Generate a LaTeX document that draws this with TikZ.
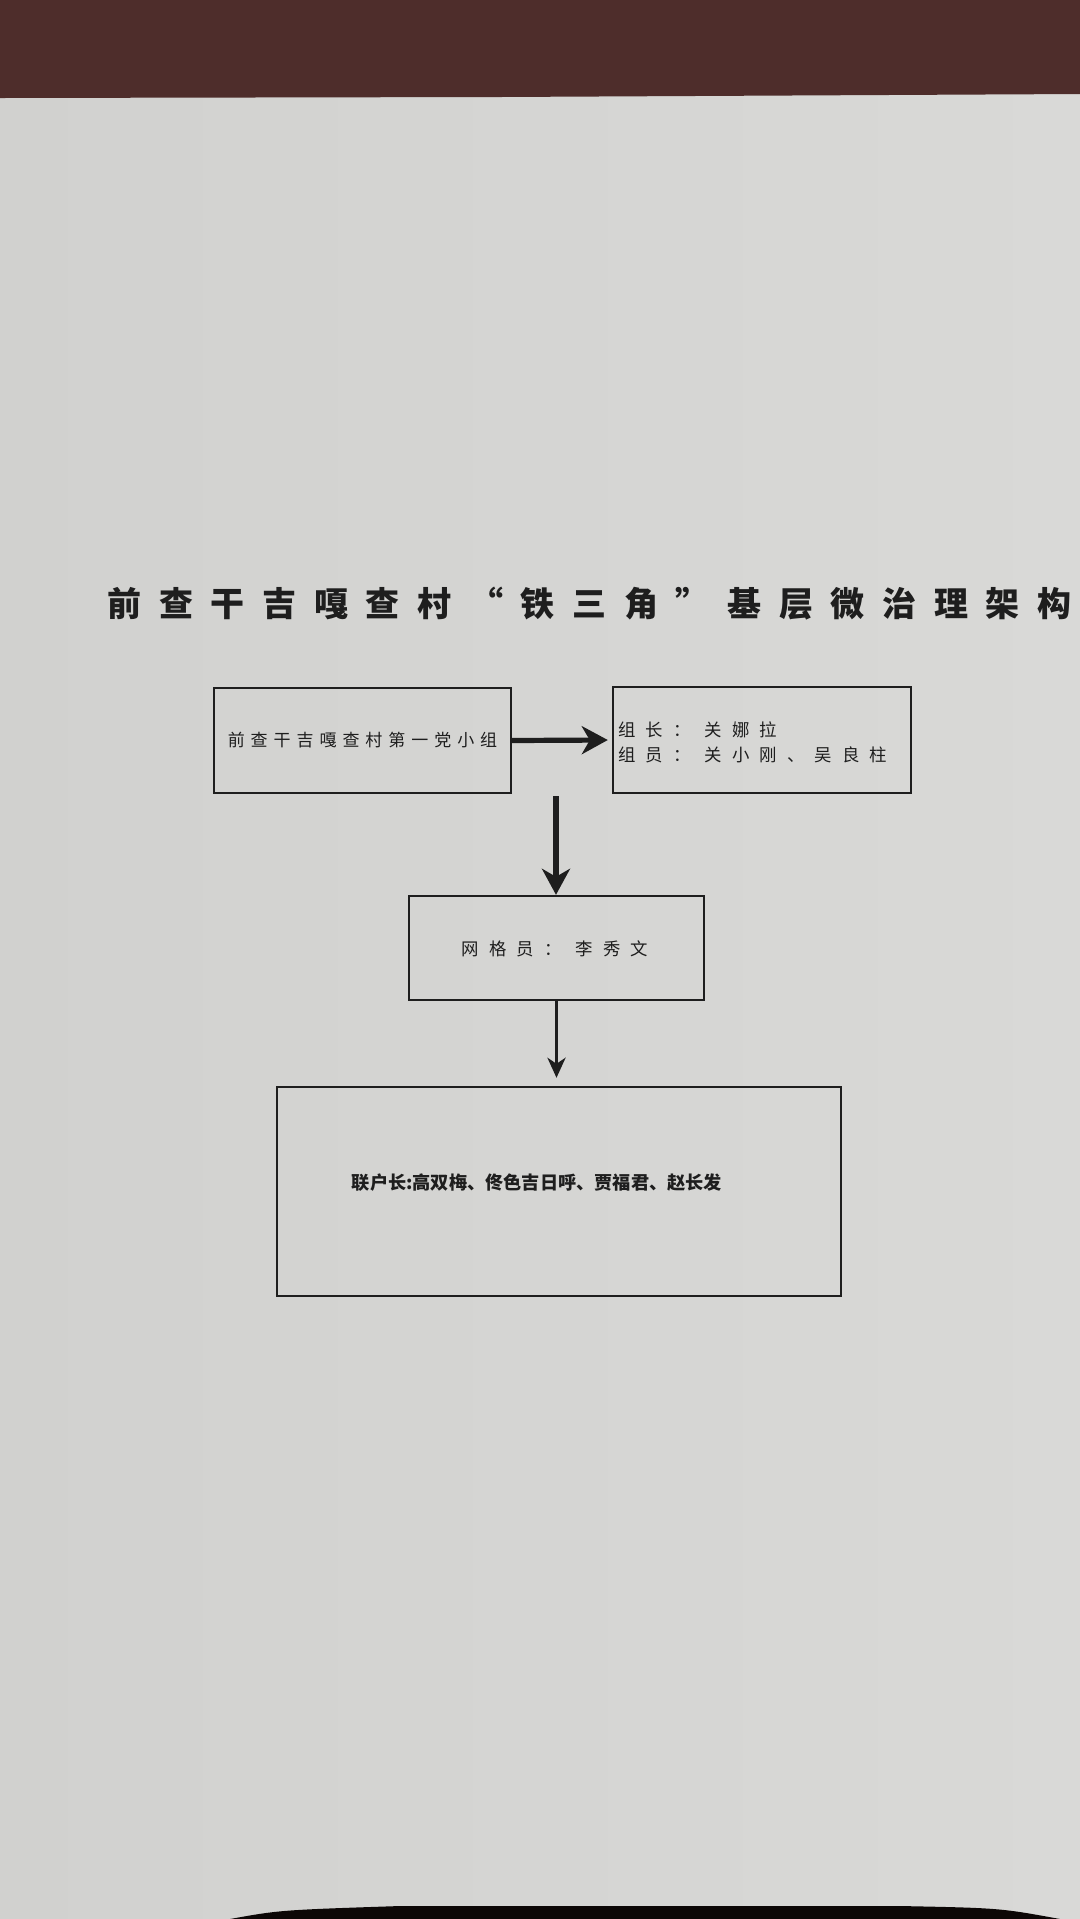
\documentclass[tikz,border=0pt]{standalone}
\usepackage{fontspec}
\usetikzlibrary{arrows.meta}
\newfontfamily\cjk{Noto Sans CJK SC}
\newfontfamily\cjktitle[LetterSpace=52]{Noto Sans CJK SC}
\newfontfamily\cjkmid[LetterSpace=35]{Noto Sans CJK SC}
\newfontfamily\cjkwide[LetterSpace=58]{Noto Sans CJK SC}
\definecolor{paper}{HTML}{D9D9D7}
\definecolor{paperl}{HTML}{D1D1CF}
\definecolor{maroon}{HTML}{4E2D2B}
\definecolor{ink}{HTML}{1E1E1E}
\tikzset{
  box/.style={draw=ink, line width=1.2pt, rectangle, inner sep=0pt},
  boxtext/.style={text=ink, inner sep=0pt},
  bigarrow/.style={draw=ink, line width=2.6pt, -{Stealth[length=13pt,width=14pt,inset=4pt]}},
  smallarrow/.style={draw=ink, line width=1.7pt, -{Stealth[length=10pt,width=9pt,inset=3pt]}}
}
\begin{document}
\begin{tikzpicture}[x=0.5pt,y=-0.5pt]
  \useasboundingbox (0,0) rectangle (1080,1919);
  % photo background
  \shade[left color=paperl, right color=paper] (0,0) rectangle (1080,1919);
  \fill[maroon] (0,0) -- (1080,0) -- (1080,94) -- (500,97) -- (0,98) -- cycle;
  \fill[black!85!maroon] (230,1919) .. controls (280,1910) .. (400,1906) -- (900,1906) .. controls (1000,1908) .. (1060,1919) -- cycle;
  % title
  \node[font=\cjktitle\bfseries\fontsize{17pt}{20pt}\selectfont, boxtext, anchor=west] (title) at (107,604) {前查干吉嘎查村“铁三角”基层微治理架构};
  % boxes
  \node[box, minimum width=148.5pt, minimum height=52.5pt] (b1) at (362.5,740.5) {};
  \node[boxtext, font=\cjkmid\fontsize{8.5pt}{10pt}\selectfont] (b1t) at (b1) {前查干吉嘎查村第一党小组};
  \node[box, minimum width=149pt, minimum height=53pt] (b2) at (762,740) {};
  \node[boxtext, anchor=west, font=\cjkwide\fontsize{8.7pt}{12.5pt}\selectfont, align=left] (b2t) at (618,742) {组长： 关娜拉\\组员： 关小刚、吴良柱};
  \node[box, minimum width=147.5pt, minimum height=52pt] (b3) at (556.5,948) {};
  \node[boxtext, font=\cjkwide\fontsize{8.7pt}{10pt}\selectfont] (b3t) at (555,949) {网格员： 李秀文};
  \node[box, minimum width=282pt, minimum height=104.5pt] (b4) at (559,1191.5) {};
  \node[boxtext, font=\cjk\bfseries\fontsize{9.1pt}{10pt}\selectfont] (b4t) at (537,1183) {联户长:高双梅、佟色吉日呼、贾福君、赵长发};
  % connectors
  \coordinate (a2s) at (556,796);
  \draw[bigarrow] (b1.east) -- ([xshift=-2pt]b2.west);
  \draw[bigarrow] (a2s) -- (a2s |- b3.north);
  \draw[smallarrow] (b3.south) -- ([yshift=4pt]b3.south |- b4.north);
\end{tikzpicture}
\end{document}
